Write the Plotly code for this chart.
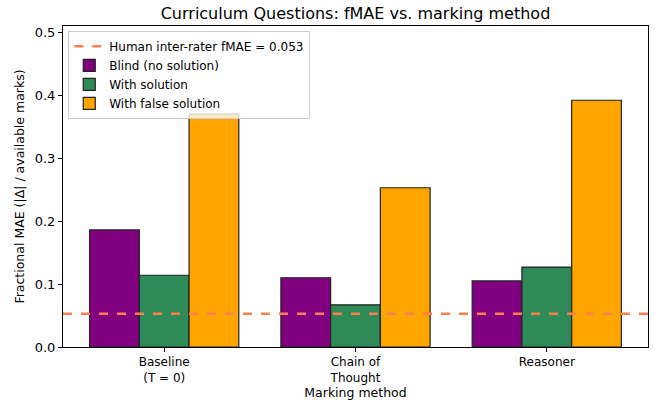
import plotly.graph_objects as go

methods = ["Baseline<br>(T = 0)", "Chain of<br>Thought", "Reasoner"]
series_names = ["Blind (no solution)", "With solution", "With false solution"]
blind = [0.186, 0.110, 0.105]
with_solution = [0.114, 0.067, 0.127]
false_solution = [0.370, 0.253, 0.392]
human_fmae = 0.053

colors = ["#800080", "#2E8B57", "#FFA500"]
font = "DejaVu Sans"

fig = go.Figure()
for k, (name, vals, col) in enumerate(zip(series_names, [blind, with_solution, false_solution], colors)):
    fig.add_trace(go.Bar(
        x=list(range(len(methods))), y=vals, name=name,
        marker=dict(color=col, line=dict(color="#222222", width=1.2)),
        legendrank=k + 2,
    ))

fig.add_hline(y=human_fmae, line=dict(color="#FF7F50", dash="dash", width=2.5),
              showlegend=True, name="Human inter-rater fMAE = %.3f" % human_fmae,
              legendrank=1, layer="above")

fig.update_layout(
    width=655, height=402,
    margin=dict(l=63, r=7, t=26, b=55, autoexpand=False),
    plot_bgcolor="white", paper_bgcolor="white",
    font=dict(family=font, size=12, color="black"),
    barmode="group", bargap=0.22, bargroupgap=0,
    title=dict(text="Curriculum Questions: fMAE vs. marking method",
               x=0.5, xanchor="center", xref="paper", y=1 - 13 / 402, yanchor="middle",
               yref="container", font=dict(size=16)),
    legend=dict(x=0.009, y=0.985, xanchor="left", yanchor="top",
                bgcolor="rgba(255,255,255,0.8)", bordercolor="#cccccc", borderwidth=1,
                font=dict(size=12), tracegroupgap=0, itemwidth=30),
    showlegend=True,
)
fig.update_xaxes(
    range=[-0.529, 2.529], tickvals=list(range(len(methods))), ticktext=methods,
    showline=True, linecolor="black", linewidth=1, mirror=True,
    ticks="outside", ticklen=4, tickcolor="black", showgrid=False, zeroline=False,
    title=dict(text="Marking method", standoff=2, font=dict(size=12.5)),
    tickfont=dict(size=12), automargin=False,
)
fig.update_yaxes(
    range=[0, 0.51], tickvals=[0, 0.1, 0.2, 0.3, 0.4, 0.5], tickformat=".1f",
    showline=True, linecolor="black", linewidth=1, mirror=True,
    ticks="outside", ticklen=4, tickcolor="black", showgrid=False, zeroline=False,
    title=dict(text="Fractional MAE (|Δ| / available marks)", standoff=7, font=dict(size=12.5)),
    tickfont=dict(size=13), automargin=False,
)

# the page body has a default 8px margin; drop it so the figure sits at the corner
fig.write_html("out.html", config={"displayModeBar": False},
               post_script="document.body.style.margin='0';")
